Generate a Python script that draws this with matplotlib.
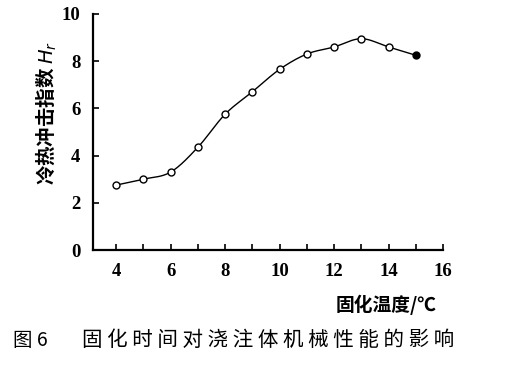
import numpy as np
import matplotlib
matplotlib.use("Agg")
import matplotlib.pyplot as plt
from matplotlib.ticker import MultipleLocator

plt.rcParams['font.family'] = ['Noto Sans CJK SC', 'DejaVu Sans']

# 数据
temp = [4, 5, 6, 7, 8, 9, 10, 11, 12, 13, 14, 15]
hr = [2.75, 3.0, 3.3, 4.35, 5.75, 6.7, 7.65, 8.3, 8.6, 8.95, 8.6, 8.25]
xticks = [4, 6, 8, 10, 12, 14, 16]
yticks = [0, 2, 4, 6, 8, 10]

ylabel = "冷热冲击指数 $H_r$"
xlabel = "固化温度/℃"
fig_no = "图 6"
caption = "固化时间对浇注体机械性能的影响"


def smooth(x, y, n=20):
    """Catmull-Rom 平滑曲线"""
    x = np.asarray(x, float)
    y = np.asarray(y, float)
    px = np.concatenate([[2 * x[0] - x[1]], x, [2 * x[-1] - x[-2]]])
    py = np.concatenate([[2 * y[0] - y[1]], y, [2 * y[-1] - y[-2]]])
    xs, ys = [], []
    t = np.linspace(0, 1, n, endpoint=False)
    for i in range(1, len(px) - 2):
        for p, out in ((px, xs), (py, ys)):
            p0, p1, p2, p3 = p[i - 1], p[i], p[i + 1], p[i + 2]
            out.extend(0.5 * (2 * p1 + (-p0 + p2) * t
                              + (2 * p0 - 5 * p1 + 4 * p2 - p3) * t ** 2
                              + (-p0 + 3 * p1 - 3 * p2 + p3) * t ** 3))
    xs.append(x[-1])
    ys.append(y[-1])
    return np.array(xs), np.array(ys)


fig = plt.figure(figsize=(5.28, 3.76), dpi=100)
ax = fig.add_axes([0.176, 0.335, 0.663, 0.628])

sx, sy = smooth(temp, hr)
ax.plot(sx, sy, color='black', lw=1.0)
ax.plot(temp[:-1], hr[:-1], 'o', ms=5, mfc='white', mec='black', mew=1.0)
ax.plot(temp[-1:], hr[-1:], 'o', ms=5, mfc='black', mec='black', mew=1.0)

ax.set_xlim(3.15, 16)
ax.set_ylim(0, 10)
ax.spines['top'].set_visible(False)
ax.spines['right'].set_visible(False)
ax.spines['left'].set_linewidth(1.6)
ax.spines['bottom'].set_linewidth(1.6)

ax.set_xticks(xticks)
ax.xaxis.set_minor_locator(MultipleLocator(1))
ax.set_yticks(yticks)
ax.tick_params(axis='both', which='both', direction='in', width=1.2)
ax.tick_params(axis='both', which='major', length=4, labelsize=13.5)
ax.tick_params(axis='x', which='minor', length=4)
ax.tick_params(axis='x', pad=9)
ax.tick_params(axis='y', pad=9)
for lab in ax.get_xticklabels() + ax.get_yticklabels():
    lab.set_family(['Liberation Serif', 'DejaVu Serif'])
    lab.set_fontweight('bold')

fig.text(0.088, 0.70, ylabel, rotation=90, ha='center', va='center',
         fontsize=14, fontweight='bold')
fig.text(0.826, 0.188, xlabel, ha='right', va='center',
         fontsize=13.5, fontweight='bold')
fig.text(0.024, 0.095, fig_no, ha='left', va='center', fontsize=14,
         fontweight='medium')
fig.text(0.155, 0.095, " ".join(caption), ha='left', va='center',
         fontsize=14.8, fontweight='medium')

fig.savefig("out.png", dpi=100)
